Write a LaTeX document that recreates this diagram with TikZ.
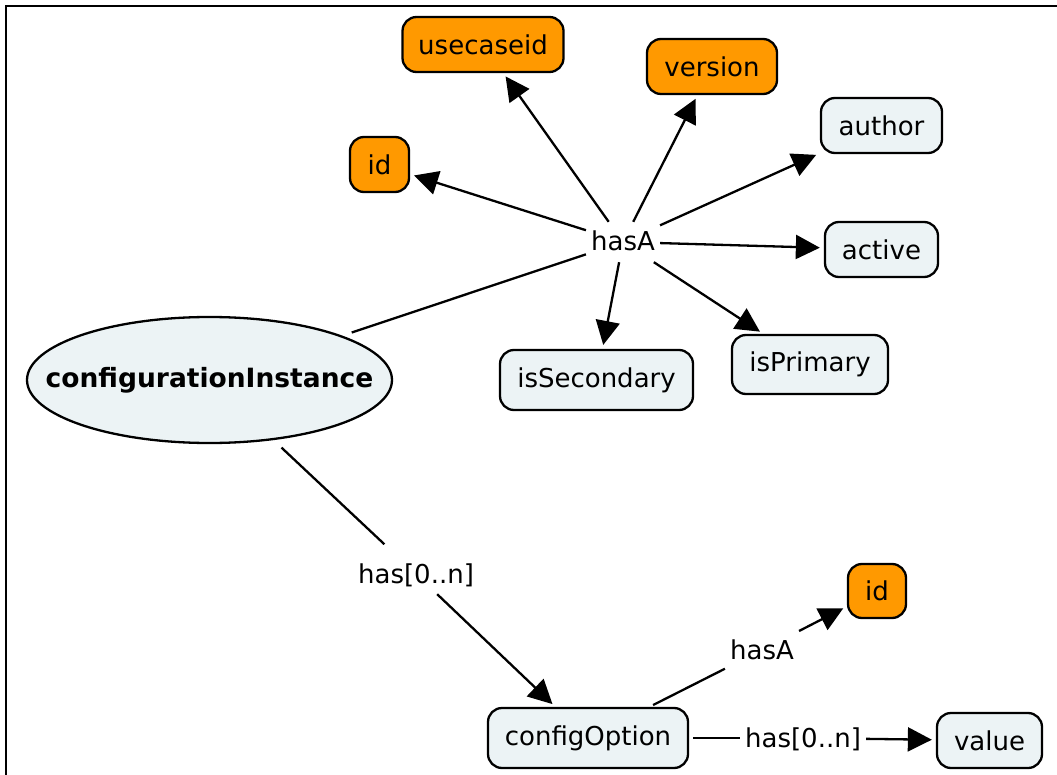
\documentclass[tikz,border=0pt]{standalone}
\usepackage{fontspec}
\setmainfont{DejaVu Sans}
\usetikzlibrary{shapes.geometric,arrows.meta}
\definecolor{keyorange}{RGB}{255,153,0}
\definecolor{conceptpale}{RGB}{236,243,245}

\begin{document}
\begin{tikzpicture}[x=1pt,y=-1pt,
  every node/.style={font=\fontsize{26}{30}\selectfont, text=black},
  concept/.style={draw, line width=2.3pt, rounded corners=14pt, fill=conceptpale,
    inner sep=0pt, minimum height=55pt},
  key/.style={concept, fill=keyorange},
  linkword/.style={inner xsep=5pt, inner ysep=9pt, text height=20pt, text depth=2pt},
  plain/.style={line width=2.3pt},
  arrowed/.style={line width=2.3pt, -{Triangle[length=24pt,width=24pt]}, shorten >=4pt}
]
\useasboundingbox (0,0) rectangle (1057,775);

% frame
\draw[line width=2.2pt] (6,775) -- (6,6) -- (1057,6);

% concepts
\node[concept, ellipse, rounded corners=0pt, minimum width=365pt, minimum height=126pt,
      font=\fontsize{26.5}{30}\selectfont\bfseries] (ci) at (209.5,380)
      {\makebox[0pt]{configurationInstance}};
\node[key, minimum width=161pt] (usecase) at (483,44.5) {usecaseid};
\node[key, minimum width=130pt] (version) at (712,66.5) {version};
\node[concept, minimum width=121pt] (author) at (881.5,125.5) {author};
\node[key, minimum width=59pt] (idtop) at (379.5,164.5) {id};
\node[concept, minimum width=113pt] (active) at (881.5,249.5) {active};
\node[concept, minimum width=193pt, minimum height=60pt] (issec) at (596.5,380) {isSecondary};
\node[concept, minimum width=156pt, minimum height=59pt] (isprim) at (810,364.5) {isPrimary};
\node[concept, minimum width=200pt, minimum height=60pt] (copt) at (588,738) {configOption};
\node[key, minimum width=58pt, minimum height=54pt] (idlow) at (877,591) {id};
\node[concept, minimum width=105pt] (value) at (989.5,740.5) {value};

% linking words
\node[linkword] (hasA1) at (623,242) {hasA};
\node[linkword] (has1) at (416,574) {has[0..n]};
\node[linkword] (hasA2) at (762,650) {hasA};
\node[linkword] (has2) at (803,738) {has[0..n]};

% connectors
\draw[plain, shorten <=10pt] (ci) -- (hasA1);
\draw[arrowed] (hasA1) -- (idtop);
\draw[arrowed] (hasA1) -- (usecase);
\draw[arrowed] (hasA1) -- (version);
\draw[arrowed] (hasA1) -- (author);
\draw[arrowed] (hasA1) -- (active);
\draw[arrowed] (hasA1) -- (isprim);
\draw[arrowed] (hasA1) -- (issec);

\draw[plain, shorten <=11pt, shorten >=14pt] (ci) -- (has1);
\draw[arrowed] (has1) -- (copt);
\draw[plain, shorten <=4pt] (copt) -- (hasA2);
\draw[arrowed] (hasA2) -- (idlow);
\draw[plain, shorten <=4pt] (copt) -- (has2);
\draw[arrowed] (has2) -- (value);
\end{tikzpicture}
\end{document}
